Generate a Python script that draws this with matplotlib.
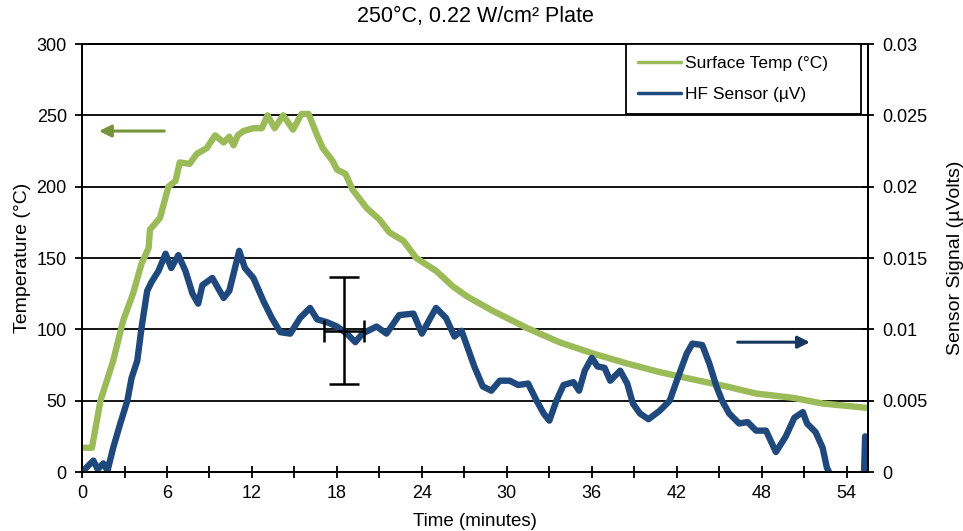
import numpy as np
import matplotlib
matplotlib.use('Agg')
import matplotlib.pyplot as plt
from matplotlib.ticker import MultipleLocator, FuncFormatter

plt.rcParams['font.family'] = ['Liberation Sans', 'DejaVu Sans']

# Surface temperature (left axis, deg C) vs time (minutes)
temp_t = [0.2, 0.7, 1.3, 2.2, 2.9, 3.6, 4.2, 4.7, 4.8, 5.5, 6.1, 6.6, 6.9, 7.6,
          8.1, 8.8, 9.4, 10.0, 10.4, 10.7, 11.0, 11.4, 12.1, 12.7, 13.1, 13.6,
          14.2, 14.9, 15.5, 16.0, 16.6, 17.0, 17.7, 18.0, 18.6, 19.1, 20.1, 21.0,
          21.7, 22.7, 23.6, 25.0, 26.2, 27.2, 29.0, 31.4, 33.7, 36.1, 38.5, 40.8,
          43.1, 45.5, 47.6, 50.2, 52.3, 55.4]
temp = [17, 17, 50, 78, 106, 125, 146, 157, 170, 178, 200, 204, 217, 216,
        223, 227, 236, 231, 235, 229, 236, 239, 241, 241, 250, 241,
        250, 240, 251, 251, 236, 227, 218, 212, 209, 198, 185, 177,
        168, 162, 150, 141, 130, 123, 113, 101, 91, 83, 76, 70,
        65, 60, 55, 52, 48, 45]

# HF sensor signal (right axis, uV) vs time (minutes)
hf_t = [0.1, 0.8, 1.1, 1.5, 1.8, 2.2, 2.7, 3.2, 3.5, 3.9, 4.2, 4.6, 4.9, 5.4,
        5.9, 6.3, 6.8, 7.3, 7.8, 8.2, 8.5, 9.2, 9.6, 10.0, 10.4, 11.1, 11.5,
        12.1, 12.8, 13.4, 14.0, 14.7, 15.4, 16.1, 16.6, 17.3, 18.0, 18.7, 19.3,
        19.8, 20.8, 21.5, 22.4, 23.4, 24.0, 24.6, 25.0, 25.7, 26.3, 26.8, 27.2,
        27.7, 28.3, 28.9, 29.5, 30.2, 30.8, 31.5, 32.1, 32.6, 33.0, 33.5, 34.0,
        34.7, 35.1, 35.5, 36.0, 36.4, 36.9, 37.3, 38.0, 38.5, 38.9, 39.4, 40.0,
        40.8, 41.5, 42.0, 42.7, 43.1, 43.8, 44.3, 44.8, 45.2, 45.7, 46.4, 47.0,
        47.6, 48.3, 49.0, 49.7, 50.3, 50.9, 51.2, 51.8, 52.3, 52.6, 53.0, 54.0,
        55.2, 55.3]
hf = [0.0001, 0.0008, 0.0002, 0.0006, 0.0001, 0.0017, 0.0034, 0.0050, 0.0066,
      0.0078, 0.0101, 0.0127, 0.0133, 0.0141, 0.0153, 0.0143, 0.0152, 0.0141,
      0.0125, 0.0118, 0.0131, 0.0136, 0.0129, 0.0122, 0.0127, 0.0155, 0.0143,
      0.0136, 0.0120, 0.0108, 0.0098, 0.0097, 0.0108, 0.0115, 0.0107, 0.0105,
      0.0102, 0.0097, 0.0091, 0.0097, 0.0102, 0.0097, 0.0110, 0.0111, 0.0097,
      0.0108, 0.0115, 0.0108, 0.0095, 0.0099, 0.0088, 0.0074, 0.0060, 0.0057,
      0.0064, 0.0064, 0.0061, 0.0062, 0.0050, 0.0041, 0.0036, 0.0050, 0.0061,
      0.0063, 0.0057, 0.0071, 0.0080, 0.0074, 0.0073, 0.0064, 0.0071, 0.0062,
      0.0048, 0.0041, 0.0037, 0.0043, 0.0050, 0.0064, 0.0083, 0.0090, 0.0089,
      0.0076, 0.0060, 0.0050, 0.0041, 0.0034, 0.0035, 0.0029, 0.0029, 0.0014,
      0.0025, 0.0038, 0.0042, 0.0034, 0.0028, 0.0017, 0.0003, -0.0005, -0.0010,
      -0.0010, 0.0025]

# error bar on the sensor trace
err_x, err_y = 18.5, 0.0099
err_dx, err_dy = 1.4, 0.00375

green = '#9BBB59'
blue = '#1F497D'

fig = plt.figure(figsize=(9.63, 5.31), dpi=100)
ax1 = fig.add_axes([0.0852, 0.1111, 0.8161, 0.806])
ax2 = ax1.twinx()

ax1.set_xlim(0, 55.5)
ax1.set_ylim(0, 300)
ax2.set_ylim(0, 0.03)

ax1.yaxis.set_major_locator(MultipleLocator(50))
ax2.yaxis.set_major_locator(MultipleLocator(0.005))
ax2.yaxis.set_major_formatter(FuncFormatter(lambda v, p: '0' if v == 0 else ('%g' % round(v, 3))))
ax1.xaxis.set_major_locator(MultipleLocator(6))
ax1.xaxis.set_minor_locator(MultipleLocator(3))

ax1.grid(axis='y', color='black', linewidth=1.3)
ax1.set_axisbelow(True)

l1, = ax1.plot(temp_t, temp, color=green, linewidth=4.6, solid_capstyle='round',
               label='Surface Temp (\u00b0C)')
l2, = ax2.plot(hf_t, hf, color=blue, linewidth=4.6, solid_capstyle='round',
               label='HF Sensor (\u00b5V)')

ax2.errorbar(err_x, err_y, yerr=err_dy, color='black', linewidth=1.8, capsize=11, capthick=1.8)
ax2.errorbar(err_x, err_y, xerr=err_dx, color='black', linewidth=1.8, capsize=8, capthick=1.8)

# direction arrows
ax1.annotate('', xy=(1.0, 239), xytext=(6.0, 239),
             arrowprops=dict(arrowstyle='-|>', color='#77933C', lw=2.2, mutation_scale=18))
ax2.annotate('', xy=(51.6, 0.0091), xytext=(46.1, 0.0091),
             arrowprops=dict(arrowstyle='-|>', color='#17375E', lw=2.2, mutation_scale=18))

for ax in (ax1, ax2):
    for s in ax.spines.values():
        s.set_linewidth(1.3)
        s.set_color('black')

ax1.tick_params(axis='y', direction='out', length=5, width=1.3, labelsize=13, pad=6)
ax2.tick_params(axis='y', direction='inout', length=8, width=1.3, labelsize=13, pad=6)
ax1.tick_params(axis='x', which='both', direction='inout', length=8, width=1.3, labelsize=13, pad=5)

ax1.set_title('250\u00b0C, 0.22 W/cm\u00b2 Plate', fontsize=15.5, pad=16)
ax1.set_xlabel('Time (minutes)', fontsize=13.5, labelpad=8)
ax1.set_ylabel('Temperature (\u00b0C)', fontsize=14, labelpad=4)
ax2.set_ylabel('Sensor Signal (\u00b5Volts)', fontsize=14, labelpad=14)

leg = ax2.legend(handles=[l1, l2], loc='upper left', bbox_to_anchor=(0.692, 0.0, 0.299, 1.0),
                 mode='expand', borderaxespad=0, fontsize=12.5, handlelength=2.5,
                 labelspacing=0.9, fancybox=False, framealpha=1, borderpad=0.7,
                 handletextpad=0.2)
leg.get_frame().set_edgecolor('black')
leg.get_frame().set_linewidth(1.3)
for h in leg.get_lines():
    h.set_linewidth(2.5)

fig.savefig('out.png', dpi=100)
